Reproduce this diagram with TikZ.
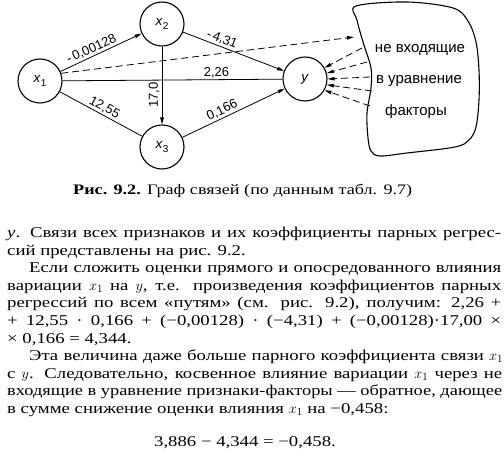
\documentclass[tikz,border=0pt]{standalone}
\usepackage{fontspec}
\setmainfont{Liberation Serif}
\setsansfont{Liberation Sans}
\newfontfamily\bookfont[FakeStretch=1.25]{Liberation Serif}
\usetikzlibrary{arrows.meta, positioning}
\newcommand{\bodyfont}{\bookfont\fontsize{15}{17.6}\selectfont}
\newlength{\natw}
% stretch the spaces of a line to width #1, or squeeze it when too long
\newcommand{\fitline}[2]{\settowidth{\natw}{#2}%
  \ifdim\natw>#1\relax\resizebox{#1}{\height}{#2}\else\makebox[#1][s]{#2}\fi}
\newcommand{\nodevar}[2]{\textit{#1}\raisebox{-0.45ex}{\fontsize{10}{10}\selectfont #2}}

\begin{document}
\begin{tikzpicture}[
        x=1pt, y=-1pt,
        % --- Style Definitions ---
        vertex/.style={circle, draw, line width=1.1pt, minimum size=44pt, inner sep=0pt, font=\sffamily\fontsize{13.5}{13.5}\selectfont},
        link/.style={line width=0.8pt},
        arrow/.style={link, -{Triangle[length=7pt, width=3.5pt]}},
        dasharrow/.style={arrow, dash pattern=on 7pt off 4pt},
        weight/.style={font=\sffamily\fontsize{13}{13}\selectfont, sloped, above, inner sep=1.5pt},
        blob/.style={line width=1.1pt},
        blobtext/.style={font=\sffamily\fontsize{15}{15}\selectfont},
        caption/.style={font=\bookfont\fontsize{14.5}{17}\selectfont, anchor=base west, inner sep=0pt},
        textline/.style={anchor=base west, inner sep=0pt, font=\bodyfont}
    ]
        \useasboundingbox (0,0) rectangle (504,468);

        %################################################################
        %### Graph of links #############################################
        %################################################################

        % --- Variables ---
        \node[vertex] (x1) at (40,81)  {\nodevar{x}{1}};
        \node[vertex] (x2) at (162,24) {\nodevar{x}{2}};
        \node[vertex] (x3) at (162,147) {\nodevar{x}{3}};
        \node[vertex] (y)  at (305,79) {\textit{y}};

        % --- Factors not in the equation ---
        \draw[blob] plot[smooth cycle, tension=0.55] coordinates {
            (356,6) (407,2) (453,8) (468,21) (476,42) (479,70) (479,100)
            (476,127) (469,140) (455,147) (407,153) (380,156) (371,151)
            (368,138) (367,113) (371,88) (371,68) (363,42) (357,20)};
        \node[blobtext] (not_in) at (420,50)  {не входящие};
        \node[blobtext] (eq_in)  at (419,81)  {в уравнение};
        \node[blobtext] (factors) at (416,112) {факторы};

        % --- Blob edge points ---
        \coordinate (blob_in) at (354,37);
        \coordinate (blob_a) at (362,48);
        \coordinate (blob_b) at (367,62);
        \coordinate (blob_c) at (370,77);
        \coordinate (blob_d) at (372,91);
        \coordinate (blob_e) at (370,106);

        % --- Links with coefficients ---
        \draw[arrow] (x1) -- node[weight, pos=0.42] {-\,0,00128} (x2);
        \draw[arrow] (x2) -- node[weight, pos=0.36] {-\,4,31} (y);
        \draw[link]  (x1) -- node[weight, pos=0.7] {2,26} (y);
        \draw[link]  (x1) -- node[weight, pos=0.5] {12,55} (x3);
        \draw[arrow] (x3) -- node[weight, pos=0.42] {0,166} (y);
        \draw[arrow] (x2) -- node[font=\sffamily\fontsize{13}{13}\selectfont, rotate=90, anchor=south, inner sep=2pt, pos=0.62] {17,0} (x3);

        % --- Dashed influences ---
        \draw[dasharrow] (x1.20) -- (blob_in);
        \draw[dasharrow] (blob_a) -- (y.30);
        \draw[dasharrow] (blob_b) -- (y.15);
        \draw[dasharrow] (blob_c) -- (y.0);
        \draw[dasharrow] (blob_d) -- (y.-15);
        \draw[dasharrow] (blob_e) -- (y.-30);

        %################################################################
        %### Caption and text ###########################################
        %################################################################

        \node[caption] (cap) at (73,194.5) {\fitline{339pt}{\textbf{Рис. 9.2.} Граф связей (по данным табл. 9.7)}};

        \node[textline] (l1)  at (7,237.5) {\fitline{494pt}{\textit{у}. Связи всех признаков и их коэффициенты парных регрес-}};
        \node[textline] (l2)  at (7,255.1) {сий представлены на рис. 9.2.};
        \node[textline] (l3)  at (29,272.7) {\fitline{472pt}{Если сложить оценки прямого и опосредованного влияния}};
        \node[textline] (l4)  at (7,290.3) {\fitline{494pt}{вариации $x_1$ на $y$, т.е. произведения коэффициентов парных}};
        \node[textline] (l5)  at (7,307.9) {\fitline{494pt}{регрессий по всем «путям» (см. рис. 9.2), получим: 2,26 +}};
        \node[textline] (l6)  at (7,325.5) {\fitline{494pt}{+ 12,55 · 0,166 + (−0,00128) · (−4,31) + (−0,00128)·17,00 ×}};
        \node[textline] (l7)  at (7,343.1) {× 0,166 = 4,344.};
        \node[textline] (l8)  at (29,360.7) {\fitline{474pt}{Эта величина даже больше парного коэффициента связи $x_1$}};
        \node[textline] (l9)  at (7,378.3) {\fitline{495pt}{с $y$. Следовательно, косвенное влияние вариации $x_1$ через не}};
        \node[textline] (l10) at (7,395.9) {\fitline{495pt}{входящие в уравнение признаки-факторы — обратное, дающее}};
        \node[textline] (l11) at (7,413.5) {в сумме снижение оценки влияния $x_1$ на −0,458:};
        \node[textline, anchor=base] (result) at (245,446) {3,886 − 4,344 = −0,458.};

    \end{tikzpicture}
\end{document}
